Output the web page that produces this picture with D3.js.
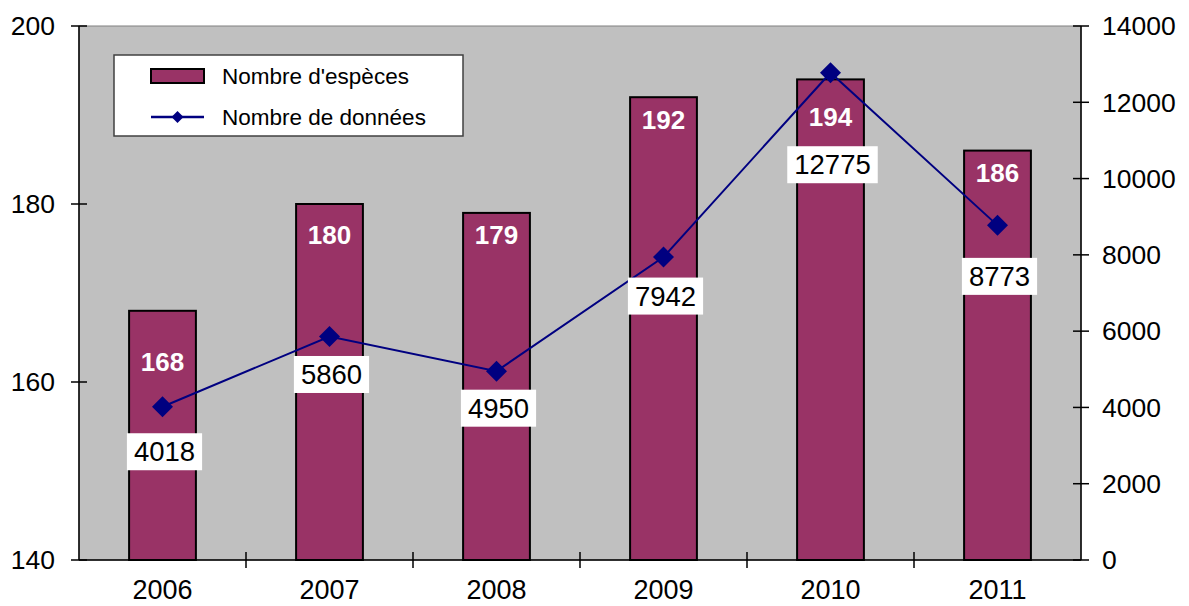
<!DOCTYPE html>
<html><head><meta charset="utf-8">
<script src="https://cdn.jsdelivr.net/npm/d3@7"></script>
<style>body{margin:0;background:#fff;}svg{display:block;font-family:"Liberation Sans",Arial,sans-serif;}</style>
</head><body>
<svg id="c" width="1189" height="606"></svg>
<script>
const years = ["2006","2007","2008","2009","2010","2011"];
const especes = [168,180,179,192,194,186];
const donnees = [4018,5860,4950,7942,12775,8773];
const leftTicks = [140,160,180,200];
const rightTicks = [0,2000,4000,6000,8000,10000,12000,14000];
const seriesNames = ["Nombre d'espèces","Nombre de données"];
// label placement tweaks (pixels below the mark), as in the original layout
const barLabelDy = [51,31,22,23,37,22];
const lineLabelDy = [45,38,37,39,92,51];

const W=1189,H=606;
const m={l:79,r:1081,t:26,b:560};
const svg=d3.select("#c");
const x=d3.scaleBand().domain(years).range([m.l,m.r]).padding(0);
const yL=d3.scaleLinear().domain([140,200]).range([m.b,m.t]);
const yR=d3.scaleLinear().domain([0,14000]).range([m.b,m.t]);
const barW=x.bandwidth()*0.4;
const BAR="#993366", LINE="#000080";

svg.append("rect").attr("x",m.l).attr("y",m.t).attr("width",m.r-m.l).attr("height",m.b-m.t)
  .attr("fill","#C0C0C0").attr("stroke","#808080").attr("stroke-width",1);

// bars
svg.selectAll("rect.bar").data(especes).join("rect").attr("class","bar")
  .attr("x",(d,i)=>x(years[i])+x.bandwidth()/2-barW/2)
  .attr("y",d=>yL(d)).attr("width",barW).attr("height",d=>yL(140)-yL(d))
  .attr("fill",BAR).attr("stroke","#000").attr("stroke-width",2);

// axes lines
const ax=svg.append("g").attr("stroke","#000").attr("stroke-width",1.5);
ax.append("line").attr("x1",m.l).attr("x2",m.l).attr("y1",m.t).attr("y2",m.b);
ax.append("line").attr("x1",m.r).attr("x2",m.r).attr("y1",m.t).attr("y2",m.b);
ax.append("line").attr("x1",m.l).attr("x2",m.r).attr("y1",m.b).attr("y2",m.b);
leftTicks.forEach(t=>ax.append("line").attr("x1",m.l-8).attr("x2",m.l+8).attr("y1",yL(t)).attr("y2",yL(t)));
rightTicks.forEach(t=>ax.append("line").attr("x1",m.r-8).attr("x2",m.r+8).attr("y1",yR(t)).attr("y2",yR(t)));
years.forEach((y,i)=>{ if(i>0){ ax.append("line").attr("x1",x(y)).attr("x2",x(y)).attr("y1",m.b-8).attr("y2",m.b+8);} });

// axis labels
svg.selectAll("text.yl").data(leftTicks).join("text").attr("class","yl")
  .attr("x",55).attr("y",d=>yL(d)).attr("dy","0.35em").attr("text-anchor","end")
  .attr("font-size",26.5).text(d=>d);
svg.selectAll("text.yr").data(rightTicks).join("text").attr("class","yr")
  .attr("x",1102).attr("y",d=>yR(d)).attr("dy","0.35em").attr("text-anchor","start")
  .attr("font-size",26.5).text(d=>d);
svg.selectAll("text.xl").data(years).join("text").attr("class","xl")
  .attr("x",d=>x(d)+x.bandwidth()/2).attr("y",599).attr("text-anchor","middle")
  .attr("font-size",27).text(d=>d);

// line
const cx=(i)=>x(years[i])+x.bandwidth()/2;
svg.append("path").datum(donnees)
  .attr("d",d3.line().x((d,i)=>cx(i)).y(d=>yR(d)))
  .attr("fill","none").attr("stroke",LINE).attr("stroke-width",2);
const dia=(s)=>`M0,${-s}L${s},0L0,${s}L${-s},0Z`;
svg.selectAll("path.mk").data(donnees).join("path").attr("class","mk")
  .attr("transform",(d,i)=>`translate(${cx(i)},${yR(d)})`).attr("d",dia(10.5)).attr("fill",LINE);

// bar labels
svg.selectAll("text.bl").data(especes).join("text").attr("class","bl")
  .attr("x",(d,i)=>cx(i)).attr("y",(d,i)=>yL(d)+barLabelDy[i]).attr("dy","0.35em")
  .attr("text-anchor","middle").attr("font-size",26).attr("font-weight","bold").attr("fill","#fff").text(d=>d);

// line labels
const lg=svg.selectAll("g.ll").data(donnees).join("g").attr("class","ll")
  .attr("transform",(d,i)=>`translate(${cx(i)+2},${yR(d)+lineLabelDy[i]})`);
lg.each(function(d){
  const g=d3.select(this);
  const t=g.append("text").attr("text-anchor","middle").attr("dy","0.35em").attr("font-size",27.5).attr("fill","#000").text(d);
  const bb=t.node().getBBox();
  g.insert("rect","text").attr("x",bb.x-7).attr("y",-18.5).attr("width",bb.width+14).attr("height",37).attr("fill","#fff");
});

// legend
const L=svg.append("g");
L.append("rect").attr("x",114).attr("y",55).attr("width",349).attr("height",81).attr("fill","#fff").attr("stroke","#404040").attr("stroke-width",1.5);
L.append("rect").attr("x",151).attr("y",69).attr("width",53).attr("height",14).attr("fill",BAR).attr("stroke","#000").attr("stroke-width",2);
L.append("line").attr("x1",151).attr("x2",204).attr("y1",117).attr("y2",117).attr("stroke",LINE).attr("stroke-width",2.5);
L.append("path").attr("transform","translate(177.5,117)").attr("d",dia(6)).attr("fill",LINE);
L.selectAll("text").data(seriesNames).join("text").attr("x",222).attr("y",(d,i)=>i?117:76).attr("dy","0.35em")
  .attr("font-size",22.5).text(d=>d);
</script>
</body></html>
